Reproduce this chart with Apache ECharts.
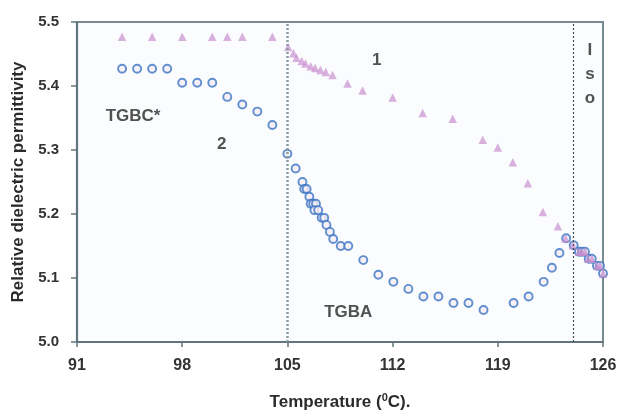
<!DOCTYPE html>
<html>
<head>
<meta charset="utf-8">
<script src="https://cdn.jsdelivr.net/npm/echarts@6/dist/echarts.min.js"></script>
<style>
  html, body { margin: 0; padding: 0; background: #ffffff; }
  #chart { width: 618px; height: 412px; }
</style>
</head>
<body>
<div id="chart"></div>
<script>
// Curve 1 (triangles): permittivity on cooling, temperature in °C
const curve1Temps = [94, 96, 98, 100, 101, 102, 104, 105.05, 105.4, 105.6, 105.95, 106.2, 106.55, 106.85, 107.2, 107.55, 108, 109, 110, 112, 114, 116, 118, 119, 120, 121, 122, 123, 123.5, 124, 124.4, 124.6, 124.8, 125, 125.25, 125.6, 125.8, 126];
const curve1Values = [5.477, 5.477, 5.477, 5.477, 5.477, 5.477, 5.477, 5.461, 5.451, 5.444, 5.439, 5.435, 5.431, 5.428, 5.425, 5.422, 5.417, 5.404, 5.393, 5.382, 5.358, 5.349, 5.316, 5.304, 5.281, 5.248, 5.203, 5.181, 5.162, 5.151, 5.141, 5.141, 5.141, 5.130, 5.130, 5.119, 5.119, 5.107];

// Curve 2 (circles)
const curve2Temps = [94, 95, 96, 97, 98, 99, 100, 101, 102, 103, 104, 105, 105.55, 106, 106.12, 106.28, 106.46, 106.55, 106.72, 106.9, 106.8, 107.05, 107.28, 107.45, 107.6, 107.83, 108.05, 108.55, 109.05, 110.05, 111.05, 112.05, 113.05, 114.05, 115.05, 116.05, 117.05, 118.05, 120.05, 121.05, 122.05, 122.6, 123.1, 123.55, 124.05, 124.4, 124.6, 124.8, 125.05, 125.25, 125.6, 125.8, 126];
const curve2Values = [5.427, 5.427, 5.427, 5.427, 5.405, 5.405, 5.405, 5.383, 5.371, 5.360, 5.339, 5.294, 5.271, 5.250, 5.239, 5.239, 5.227, 5.216, 5.216, 5.216, 5.206, 5.206, 5.194, 5.194, 5.183, 5.172, 5.161, 5.150, 5.150, 5.128, 5.105, 5.094, 5.083, 5.071, 5.071, 5.061, 5.061, 5.050, 5.061, 5.071, 5.094, 5.116, 5.139, 5.162, 5.151, 5.141, 5.141, 5.141, 5.130, 5.130, 5.119, 5.119, 5.107];

// Phase transition temperatures (vertical markers)
const transitionTemps = [105, 124];

// In-plot labels: [temperature, permittivity, text]
const phaseLabels = [
  [94.73, 5.353, 'TGBC*'],
  [100.63, 5.309, '2'],
  [110.94, 5.440, '1'],
  [109.05, 5.047, 'TGBA'],
  [125.13, 5.419, 'I\ns\no']
];

const xMin = 91, xMax = 126, xStep = 7;
const yMin = 5.0, yMax = 5.5, yStep = 0.1;

const zip = (a, b) => a.map((v, i) => [v, b[i]]);
const FONT = 'Liberation Sans, Arial, sans-serif';
const axisColor = '#62757e';

const chart = echarts.init(document.getElementById('chart'), null, { renderer: 'canvas' });

chart.setOption({
  backgroundColor: '#ffffff',
  animation: false,
  grid: {
    left: 77, right: 15, top: 22, bottom: 70,
    outerBoundsMode: 'none',
    containLabel: false,
    show: true,
    backgroundColor: '#fbfcfe',
    borderColor: '#7a8a92',
    borderWidth: 2
  },
  xAxis: {
    type: 'value',
    min: xMin, max: xMax, interval: xStep,
    name: '{t|Temperature (}{s|0}{t|C).}',
    nameLocation: 'middle',
    nameGap: 50,
    nameTextStyle: {
      rich: {
        t: { fontFamily: FONT, fontWeight: 'bold', fontSize: 17, color: '#2b2b2b' },
        s: { fontFamily: FONT, fontWeight: 'bold', fontSize: 11, color: '#2b2b2b', verticalAlign: 'top', padding: [0, 0, 9, 0] }
      }
    },
    axisLine: { show: true, lineStyle: { color: axisColor, width: 2.2 } },
    axisTick: { show: true, length: 5, lineStyle: { color: axisColor, width: 1.5 } },
    axisLabel: { margin: 16, fontFamily: FONT, fontWeight: 'bold', fontSize: 16, color: '#333333' },
    splitLine: { show: false }
  },
  yAxis: {
    type: 'value',
    min: yMin, max: yMax, interval: yStep,
    name: 'Relative dielectric permittivity',
    nameLocation: 'middle',
    nameGap: 48,
    nameTextStyle: { fontFamily: FONT, fontWeight: 'bold', fontSize: 17, color: '#2b2b2b' },
    axisLine: { show: true, lineStyle: { color: axisColor, width: 2.2 } },
    axisTick: { show: true, length: 6, lineStyle: { color: axisColor, width: 1.5 } },
    axisLabel: {
      margin: 18, fontFamily: FONT, fontWeight: 'bold', fontSize: 15, color: '#333333',
      formatter: v => v.toFixed(1)
    },
    splitLine: { show: false }
  },
  series: [
    {
      name: 'curve2',
      type: 'scatter',
      data: zip(curve2Temps, curve2Values),
      symbol: 'circle',
      symbolSize: 8,
      itemStyle: { color: '#f6eef5', borderColor: '#3a74c4', borderWidth: 1.9 },
      markLine: {
        silent: true,
        symbol: 'none',
        label: { show: false },
        data: [
          { xAxis: transitionTemps[0], lineStyle: { color: '#8a9aa2', width: 2.5, type: [2, 2] } },
          { xAxis: transitionTemps[1], lineStyle: { color: '#3f4f57', width: 1.2, type: [2, 2] } }
        ]
      },
      z: 3
    },
    {
      name: 'curve1',
      type: 'scatter',
      data: zip(curve1Temps, curve1Values),
      symbol: 'triangle',
      symbolSize: 8.5,
      itemStyle: { color: 'rgba(200,140,205,0.85)' },
      z: 4
    },
    {
      name: 'labels',
      type: 'scatter',
      data: phaseLabels,
      symbolSize: 0,
      silent: true,
      label: {
        show: true,
        position: 'inside',
        formatter: p => p.value[2],
        fontFamily: FONT, fontWeight: 'bold', fontSize: 17, color: '#262626',
        lineHeight: 24, align: 'center', verticalAlign: 'middle'
      },
      z: 5
    }
  ]
});
</script>
</body>
</html>
